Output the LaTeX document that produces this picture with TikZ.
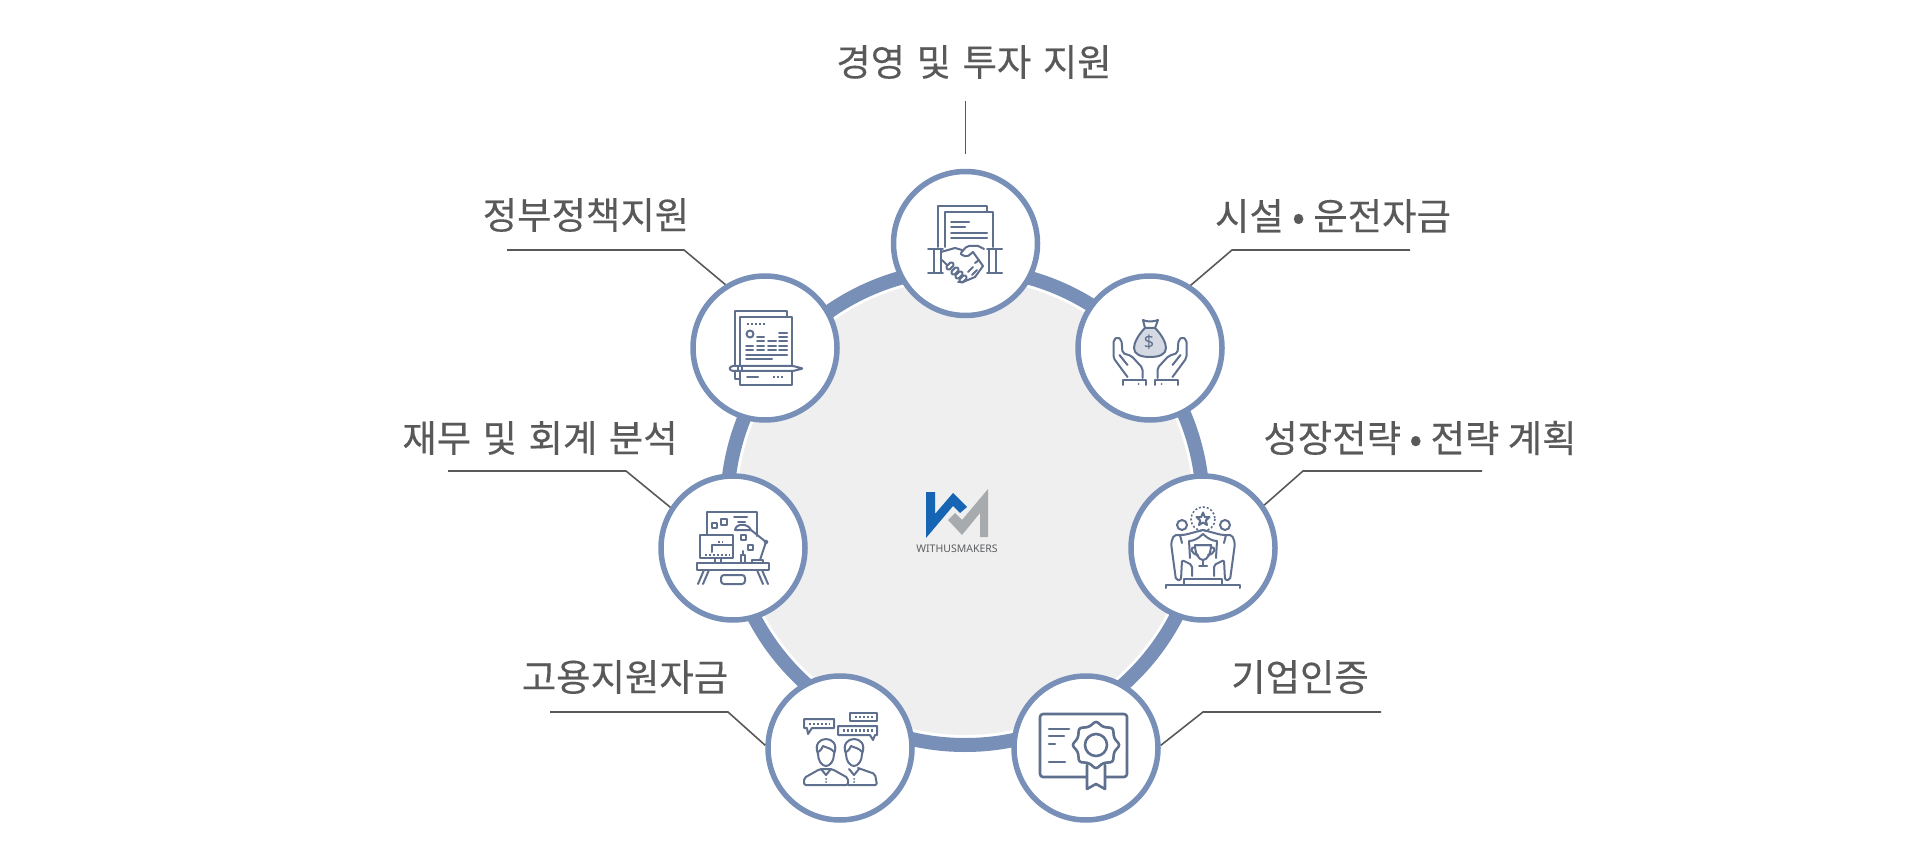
\documentclass[tikz,border=0pt]{standalone}
\usepackage{fontspec}
\setmainfont{Noto Sans}
\newfontfamily\krfont[FakeBold=0.3]{Noto Sans CJK KR}
\definecolor{ringblue}{HTML}{7890B8}
\definecolor{iconblue}{HTML}{5F6F8E}
\definecolor{leadgray}{HTML}{595959}
\definecolor{padgray}{HTML}{EFEFEF}
\definecolor{bagfill}{HTML}{D5D9E3}
\definecolor{logoblue}{HTML}{1565B4}
\definecolor{logogray}{HTML}{A8ABAE}
\tikzset{
  bub/.style={circle,draw=ringblue,fill=white,line width=5.5pt,minimum size=144pt,inner sep=0pt},
  lab/.style={text=leadgray,inner sep=0pt,font={\krfont\fontsize{37.4}{44}\selectfont\spaceskip 8.4pt\relax}},
  labw/.style={lab,font={\krfont\fontsize{37.4}{44}\selectfont\spaceskip 11.5pt\relax}},
  lead/.style={draw=leadgray,line width=1.6pt},
  ic/.style={draw=iconblue,line width=2pt,line join=round,line cap=round},
  icdot/.style={draw=iconblue,line width=2.2pt,dash pattern=on 2pt off 2pt},
}
\begin{document}
\begin{tikzpicture}[x=1pt,y=-1pt]
  \useasboundingbox (0,0) rectangle (1920,866);

  \fill[padgray] (965,507) circle (228);
  \draw[ringblue,line width=14pt] (965,507) circle (238);

  \node[bub] (c1) at (965.5,243.5) {};
  \node[bub] (c2) at (765,348) {};
  \node[bub] (c3) at (1150,348) {};
  \node[bub] (c4) at (733,548) {};
  \node[bub] (c5) at (1203,548) {};
  \node[bub] (c6) at (840,748) {};
  \node[bub] (c7) at (1086,748) {};

  \node[labw] (l1) at (974,62) {경영 및 투자 지원};
  \node[lab] (l2) at (586,215) {정부정책지원};
  \node[lab] (l3) at (1333,216) {시설 • 운전자금};
  \node[labw] (l4) at (540,438) {재무 및 회계 분석};
  \node[lab] (l5) at (1420,438) {성장전략 • 전략 계획};
  \node[lab] (l6) at (625,677) {고용지원자금};
  \node[lab] (l7) at (1300,677) {기업인증};

  \coordinate (e1) at (965.5,101);
  \coordinate (k2) at (684,250);
  \coordinate (e2) at (507,250);
  \coordinate (k3) at (1232,250);
  \coordinate (e3) at (1410,250);
  \coordinate (k4) at (626,471);
  \coordinate (e4) at (448,471);
  \coordinate (k5) at (1303,471);
  \coordinate (e5) at (1482,471);
  \coordinate (k6) at (728,712);
  \coordinate (e6) at (550,712);
  \coordinate (k7) at (1203,712);
  \coordinate (e7) at (1381,712);

  \draw[lead,shorten <=15pt] (c1.north) -- (e1);
  \draw[lead] (c2.122) -- (k2) -- (e2);
  \draw[lead] (c3.57) -- (k3) -- (e3);
  \draw[lead] (c4.147) -- (k4) -- (e4);
  \draw[lead] (c5.35) -- (k5) -- (e5);
  \draw[lead] (c6.178) -- (k6) -- (e6);
  \draw[lead] (c7.2) -- (k7) -- (e7);

  \begin{scope}[shift={(965,241)}]
    \draw[ic] (-27,6) -- (-27,-35) -- (22,-35) -- (22,-29);
    \draw[ic] (-20,6) -- (-20,-29) -- (28,-29) -- (28,6);
    \foreach \y/\x in {-19/4,-14/0,-8/22,-3/22}
      \draw[ic] (-14,\y) -- (\x,\y);
    \foreach \x in {-37,37}
      \draw[ic] (\x,8) -- (0.6*\x,8) (\x,32) -- (0.6*\x,32);
    \foreach \x in {-31,-24,24,31}
      \draw[ic] (\x,8) -- (\x,32);
    \draw[ic] (-24,11) -- (-10,7) -- (-3,9);
    \draw[ic] (13,5) -- (19,8);
    \draw[ic,rounded corners=2pt] (8,11) -- (2,16) -- (-5,13) -- (2,5) -- (13,5);
    \draw[ic] (8,11) -- (18,25) -- (10,36) -- (-2,41) -- (-7,41);
    \draw[ic] (-23,19) -- (-18,24);
    \foreach \x/\y in {-15/25,-10/30,-6/34,-2/38}
      \draw[ic,rotate around={45:(\x,\y)},rounded corners=1.5pt] (\x-4,\y-2.2) rectangle (\x+4,\y+2.2);
    \draw[ic] (3,31) -- (8,26) (7,34) -- (12,29) (10,22) -- (14,19);
  \end{scope}

  \begin{scope}[shift={(1150,348)}]
    \draw[ic,fill=bagfill] (-5,-20) .. controls (-12,-13) and (-16,-5) .. (-16,0)
      .. controls (-16,6) and (-10,9) .. (0,9) .. controls (10,9) and (16,6) .. (16,0)
      .. controls (16,-5) and (12,-13) .. (5,-20) -- cycle;
    \draw[ic] (-5,-20) -- (-7,-28) .. controls (-3,-26) and (3,-26) .. (8,-28) -- (5,-20);
    \node[text=iconblue,inner sep=0pt,font=\bfseries\fontsize{18}{18}\selectfont] (dollar) at (-1,-5.5) {\$};
    \foreach \s in {1,-1} {
      \begin{scope}[xscale=\s,xshift=-0.5pt]
        \draw[ic,rounded corners=2pt] (-7,30) -- (-7,20) -- (-18,8) -- (-27,5) -- (-28,-8) -- (-32,-11) -- (-36,-8) -- (-36,10) -- (-22,29);
        \draw[ic] (-30,7) -- (-22,17);
        \draw[ic] (-27,37) -- (-27,32) -- (-4,32) -- (-4,37);
        \fill[iconblue] (-11,36) circle (1);
      \end{scope}
    }
  \end{scope}

  \begin{scope}[shift={(765,348)}]
    \draw[ic] (-25,31) -- (-30,31) -- (-30,-37) -- (22,-37) -- (22,-31);
    \draw[ic,fill=white] (-25,-31) rectangle (27,37);
    \draw[icdot] (-18,-24) -- (0,-24);
    \draw[ic] (-15,-14) circle (3.5);
    \foreach \a/\b/\y in {-19/-12/-2,-19/-12/2,-8/-1/-11,-8/-1/-7,-8/-1/-2,-8/-1/2,3/11/-7,3/11/-2,3/11/2,14/22/-15,14/22/-11,14/22/-7,14/22/-2,14/22/2}
      \draw[ic] (\a,\y) -- (\b,\y);
    \draw[ic] (-19,7) -- (22,7) (-19,11) -- (7,11);
    \draw[ic,fill=white,rounded corners=1pt] (-33,18) -- (28,18) -- (38,20.5) -- (28,23) -- (-33,23) -- (-36,20.5) -- cycle;
    \draw[ic] (-27,18) -- (-27,23) (-23,18) -- (-23,23);
    \draw[ic] (-18,29) -- (-7,29);
    \draw[icdot] (8,29) -- (18,29);
  \end{scope}

  \begin{scope}[shift={(733,548)}]
    \draw[ic] (-26,-13) -- (-26,-36) -- (24,-36) -- (24,-12);
    \draw[ic,fill=white] (-33,-13) rectangle (0,10);
    \draw[ic] (-21,4) -- (-21,-3) -- (0,-3);
    \draw[icdot] (-28,7) -- (-3,7);
    \draw[icdot] (-15,-6) -- (-10,-6);
    \draw[ic] (-21,-25) rectangle (-16.5,-20.5);
    \draw[ic] (-12,-29) rectangle (-6,-23);
    \draw[ic] (8,-13) rectangle (13,-8);
    \draw[ic] (15,-3) rectangle (20,2);
    \draw[ic] (1,-31) -- (14,-31) (5,-26) -- (12,-26);
    \draw[ic,fill=white] (2,-18) .. controls (3,-25) and (15,-25) .. (18,-18) -- cycle;
    \draw[ic] (18,-18) -- (33,-6) -- (27,12);
    \draw[ic] (33,-6) circle (1.5);
    \draw[ic] (19,15) -- (19,12) -- (30,12) -- (30,15);
    \draw[ic] (8,15) -- (8,7) -- (12,7) -- (12,15) (10,7) -- (10,3);
    \draw[ic] (-18,10) -- (-18,15) (-12,10) -- (-12,15);
    \draw[ic,fill=white] (-36,15) rectangle (36,22);
    \draw[ic] (-29,22) -- (-35,36) (-24,22) -- (-30,36);
    \draw[ic] (29,22) -- (35,36) (24,22) -- (30,36);
    \draw[ic,rounded corners=3pt] (-12,36) -- (-12,27) -- (12,27) -- (12,36) -- cycle;
  \end{scope}

  \begin{scope}[shift={(1203,548)}]
    \draw[ic] (-37,40) -- (-37,37) -- (37,37) -- (37,40);
    \draw[ic] (-19,37) -- (-19,31) -- (19,31) -- (19,37);
    \draw[icdot,line width=1.6pt] (0,-29) circle (12);
    \draw[ic] (0,-35.5) -- (1.8,-31) -- (6.5,-31) -- (2.8,-27.5) -- (4,-23) -- (0,-25.5) -- (-4,-23) -- (-2.8,-27.5) -- (-6.5,-31) -- (-1.8,-31) -- cycle;
    \draw[ic] (-21,-23) circle (5) (22,-23) circle (5);
    \foreach \s in {1,-1} {
      \begin{scope}[xscale=\s]
        \draw[ic,rounded corners=2pt] (0,-18) -- (-19,-13) -- (-29,-13) -- (-32,-5) -- (-30,10) -- (-27,32) -- (-22,32) -- (-21,12) -- (-11,17) -- (-11,28);
        \draw[ic] (0,-14) .. controls (-5,-9) and (-10,-7) .. (-14,-7) -- (-13,10);
        \draw[ic] (-8,-3) -- (8,-3) (-8,-3) .. controls (-8,6) and (-4,12) .. (0,12);
        \draw[ic] (-8,-1) .. controls (-14,-1) and (-12,6) .. (-5,7);
        \draw[ic] (-23,-13) -- (-21,-5);
      \end{scope}
    }
    \draw[ic] (0,12) -- (0,18) (-4,18) -- (4,18);
  \end{scope}

  \begin{scope}[shift={(840,748)}]
    \draw[ic] (-33,-20) -- (-36,-20) -- (-36,-29) -- (-6,-29) -- (-6,-20) -- (-28,-20) -- (-32,-14) -- (-33,-20);
    \draw[icdot] (-31,-24) -- (-10,-24);
    \draw[ic] (10,-35) rectangle (37,-27);
    \draw[icdot] (15,-31) -- (33,-31);
    \draw[ic] (30,-13) -- (-2,-13) -- (-2,-22) -- (37,-22) -- (37,-13) -- (35,-13) -- (33,-8) -- (30,-13);
    \draw[icdot] (3,-17.5) -- (33,-17.5);
    \foreach \x in {-14,14} {
      \begin{scope}[xshift=\x pt]
        \draw[ic,fill=white] (-8,6) .. controls (-12,-4) and (-6,-9) .. (0,-9)
          .. controls (6,-9) and (12,-4) .. (8,6) .. controls (8,13) and (4,18) .. (0,18)
          .. controls (-4,18) and (-8,13) .. (-8,6) -- cycle;
        \draw[ic] (-8,4) .. controls (-4,2) and (-4,-1) .. (-3,-2) .. controls (1,0) and (5,0) .. (8,4);
      \end{scope}
    }
    \draw[ic,rounded corners=2pt] (18,20) -- (35,26) -- (37,37) -- (8,37);
    \draw[ic,fill=white,rounded corners=2pt] (-36,37) -- (-36,30) -- (-20,21) -- (-8,21) -- (8,30) -- (8,37) -- cycle;
    \foreach \x in {-14,14} {
      \draw[ic] (\x-5,21) -- (\x,27) -- (\x+5,21);
      \fill[iconblue] (\x,31) circle (1) (\x,34) circle (1);
    }
  \end{scope}

  \begin{scope}[shift={(1086,748)},ic/.append style={line width=2.6pt}]
    \draw[ic,rounded corners=3pt] (-46,-34) rectangle (41,29);
    \draw[ic] (-37,-19) -- (-17,-19) (-37,-12) -- (-22,-12) (-37,-4) -- (-31,-4) (-37,14) -- (-21,14);
    \draw[ic,fill=white] (1,17) -- (1,41) -- (10,36) -- (19,41) -- (19,17);
    \draw[ic,fill=white,rounded corners=2.5pt] (10,-27) -- (17,-21) -- (27,-20) -- (28,-10) -- (34,-3) -- (28,4) -- (27,14) -- (17,15) -- (10,21) -- (3,15) -- (-7,14) -- (-8,4) -- (-14,-3) -- (-8,-10) -- (-7,-20) -- (3,-21) -- cycle;
    \draw[ic] (10,-3) circle (11);
  \end{scope}

  \fill[logoblue] (926,492) -- (935,492) -- (935,514) -- (953,493) -- (967,507) -- (960,513) -- (953,506) -- (926,538) -- cycle;
  \fill[logogray] (988,489) -- (988,537) -- (980,537) -- (980,513) -- (962,535) -- (948,520) -- (955,513) -- (962,520) -- cycle;
  \node[text=logogray!55!black,inner sep=0pt,font=\bfseries\fontsize{10.5}{12}\selectfont] (brand) at (957,549) {WITHUSMAKERS};
\end{tikzpicture}
\end{document}
